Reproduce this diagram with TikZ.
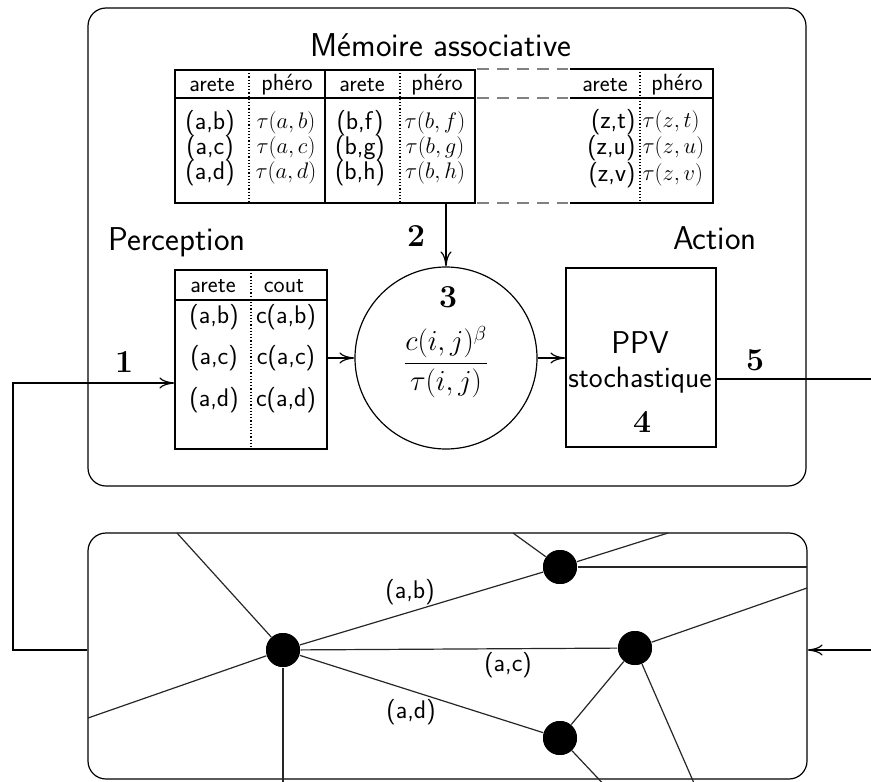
\RequirePackage{fix-cm}
\documentclass[tikz,border=0pt]{standalone}
\usepackage{amsmath}
\usetikzlibrary{arrows.meta}
\begin{document}
\begin{tikzpicture}[x=1pt,y=-1pt, line width=1.2pt,
  lbl/.style={font=\sffamily\fontsize{33}{38}\selectfont, inner sep=0pt},
  hdr/.style={font=\sffamily\fontsize{23.5}{27}\selectfont, inner sep=0pt},
  cell/.style={font=\sffamily\fontsize{25.5}{29}\selectfont, inner sep=0pt},
  tcell/.style={font=\fontsize{22.5}{26}\selectfont, inner sep=0pt},
  num/.style={font=\fontsize{32}{36}\selectfont, inner sep=0pt},
  arr/.style={-{To[length=15pt,width=11pt]}},
  dotl/.style={dotted, line width=1.2pt},
  dashl/.style={dash pattern=on 12pt off 8pt, gray, line width=1.3pt},
  vtx/.style={circle, fill=black, inner sep=0pt, minimum size=34pt},
  box/.style={draw, inner sep=0pt},
  grl/.style={line width=1.2pt, black!85}
]
\useasboundingbox (0,0) rectangle (871,782);

% ---------- agent box ----------
\node[box, rounded corners=18pt, minimum width=718pt, minimum height=478pt] (agent) at (447,247) {};
\node[lbl] (title) at (441,45) {Mémoire associative};
\node[lbl] (perlbl) at (177,242) {Perception};
\node[lbl] (actlbl) at (715,238) {Action};

% ---------- memory table ----------
\node[box, minimum width=300pt, minimum height=133pt] (t1) at (325,136.5) {};
\draw (t1.west |- 0,98) -- (t1.east |- 0,98);
\draw (325,70) -- (325,203);
\draw[dotl] (249,70) -- (249,203);
\draw[dotl] (400,70) -- (400,203);
\node[hdr] at (212,85) {arete};
\node[hdr] at (287,85) {phéro};
\node[hdr] at (362,85) {arete};
\node[hdr] at (437,85) {phéro};
\foreach \y/\a/\b/\c/\d in {123/b/b/f/f,148/c/c/g/g,173/d/d/h/h}{
  \node[cell] at (210,\y) {(a,\a)};
  \node[tcell] at (286,\y) {$\tau(a,\b)$};
  \node[cell] at (360,\y) {(b,\c)};
  \node[tcell] at (435,\y) {$\tau(b,\d)$};
}
% dashed continuation
\draw[dashl] (477,69) -- (568,69);
\draw[dashl] (477,98) -- (568,98);
\draw[dashl] (477,203) -- (568,203);
% last table
\coordinate (t3nw) at (570,69);
\coordinate (t3se) at (713,203);
\draw (t3nw) -- (t3nw -| t3se) -- (t3se) -- (t3se -| t3nw);
\draw (570,98) -- (713,98);
\draw[dotl] (640,69) -- (640,203);
\node[hdr] at (605,85) {arete};
\node[hdr] at (677,85) {phéro};
\foreach \y/\z in {122/t,148/u,175/v}{
  \node[cell, anchor=east] at (636,\y) {(z,\z)};
  \node[tcell, anchor=west] at (642,\y) {$\tau(z,\z)$};
}

% ---------- perception table ----------
\node[box, minimum width=152pt, minimum height=179pt] (perc) at (251,359.5) {};
\draw (perc.west |- 0,300) -- (perc.east |- 0,300);
\draw[dotl] (251,270) -- (251,449);
\node[hdr] at (213,286) {arete};
\node[hdr] at (284,286) {cout};
\foreach \y/\e in {317/b,358/c,400/d}{
  \node[cell] at (214,\y) {(a,\e)};
  \node[cell] at (286,\y) {c(a,\e)};
}

% ---------- computation circle ----------
\node[draw, circle, minimum size=182pt, inner sep=0pt] (circ) at (446,358) {};
\node[num] at (448,297) {$\mathbf{3}$};
\node[font=\fontsize{29}{33}\selectfont, inner sep=0pt] at (446,362) {$\dfrac{c(i,j)^{\beta}}{\tau(i,j)}$};

% ---------- PPV box ----------
\node[box, minimum width=150pt, minimum height=179pt] (ppv) at (641,357.5) {};
\node[font=\sffamily\fontsize{31.5}{36}\selectfont, inner sep=0pt] at (640,343) {PPV};
\node[font=\sffamily\fontsize{29.5}{34}\selectfont, inner sep=0pt] at (640,380) {stochastique};
\node[num] at (642,422) {$\mathbf{4}$};

% ---------- world box ----------
\node[box, rounded corners=18pt, minimum width=719pt, minimum height=246pt] (world) at (447.5,656) {};

\node[vtx] (vA) at (283,650) {};
\node[vtx] (vB) at (560,567) {};
\node[vtx] (vC) at (635,648) {};
\node[vtx] (vD) at (560,738) {};

\coordinate (eA1) at (177,533);
\coordinate (eA2) at (88,718);
\coordinate (eA3) at (283,790);
\coordinate (eB1) at (513,533);
\coordinate (eB2) at (668,533);
\coordinate (eB3) at (807,567);
\coordinate (eC1) at (807,588);
\coordinate (eC2) at (697,790);
\coordinate (eD1) at (609,790);

\begin{scope}[grl]
\draw (vA) -- (eA1);
\draw (vA) -- (eA2);
\draw (vA) -- (eA3);
\draw (vA) -- (vB);
\draw (vA) -- (vC);
\draw (vA) -- (vD);
\draw (vB) -- (eB1);
\draw (vB) -- (eB2);
\draw (vB) -- (eB3);
\draw (vC) -- (eC1);
\draw (vC) -- (vD);
\draw (vC) -- (eC2);
\draw (vD) -- (eD1);
\end{scope}
\node[vtx] at (vA) {};
\node[vtx] at (vB) {};
\node[vtx] at (vC) {};
\node[vtx] at (vD) {};

\node[cell] at (410,592) {(a,b)};
\node[cell] at (508,665) {(a,c)};
\node[cell] at (411,712) {(a,d)};

% ---------- connectors ----------
\draw[arr] (circ |- t1.south) -- (circ.north);
\draw[arr] (perc.east |- circ) -- (circ.west);
\draw[arr] (circ.east) -- (ppv.west |- circ);
\draw[arr] (world.west |- vA) -| (13,383) -- (perc.west |- 0,383);
\draw[arr] (ppv.east |- 0,379) -- (874,379) |- (world.east |- vA);

\node[num] at (124,362) {$\mathbf{1}$};
\node[num] at (416,236) {$\mathbf{2}$};
\node[num] at (755,360) {$\mathbf{5}$};
\end{tikzpicture}
\end{document}
